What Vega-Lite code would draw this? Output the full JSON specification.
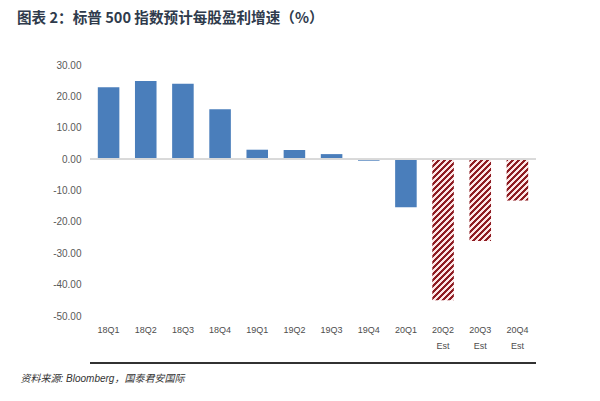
{
  "$schema": "https://vega.github.io/schema/vega-lite/v6.json",
  "autosize": "none",
  "width": 446,
  "height": 251,
  "padding": {"left": 90, "top": 65, "right": 64, "bottom": 85},
  "background": "white",
  "config": {"view": {"stroke": null}},
  "title": {
    "text": "图表 2：标普 500 指数预计每股盈利增速（%）",
    "anchor": "start",
    "frame": "group",
    "dx": -73,
    "offset": 34,
    "font": "Noto Sans CJK SC",
    "fontSize": 14.6,
    "fontWeight": "bold",
    "color": "#2f3b4c"
  },
  "data": {
    "values": [
      {"q": "18Q1", "v": 22.9},
      {"q": "18Q2", "v": 24.9},
      {"q": "18Q3", "v": 24.0},
      {"q": "18Q4", "v": 15.9},
      {"q": "19Q1", "v": 3.0},
      {"q": "19Q2", "v": 2.9},
      {"q": "19Q3", "v": 1.6},
      {"q": "19Q4", "v": -0.5},
      {"q": "20Q1", "v": -15.3},
      {"q": "20Q2 Est", "v": -45.0},
      {"q": "20Q3 Est", "v": -26.1},
      {"q": "20Q4 Est", "v": -13.2}
    ]
  },
  "layer": [
    {
      "mark": {"type": "bar"},
      "encoding": {
        "x": {
          "field": "q",
          "type": "nominal",
          "sort": null,
          "scale": {"paddingInner": 0.42, "paddingOuter": 0.21},
          "axis": {
            "title": "资料来源: Bloomberg，国泰君安国际",
            "titleFont": "Liberation Sans, Noto Sans CJK SC",
            "titleFontStyle": "italic",
            "titleFontWeight": "normal",
            "titleFontSize": 10,
            "titleColor": "#333333",
            "titleX": -70,
            "titleY": 62,
            "titleAlign": "left",
            "titleBaseline": "middle",
            "labelExpr": "split(datum.label, ' ')",
            "labelAngle": 0,
            "labelFont": "Liberation Sans",
            "labelFontSize": 9,
            "labelColor": "#4d4d4d",
            "labelPadding": 9,
            "labelLineHeight": 16,
            "domain": false,
            "ticks": false,
            "grid": false
          }
        },
        "y": {
          "field": "v",
          "type": "quantitative",
          "scale": {"domain": [-50, 30], "nice": false},
          "axis": {
            "title": null,
            "values": [-50, -40, -30, -20, -10, 0, 10, 20, 30],
            "tickCount": 20,
            "labelExpr": "replace(format(datum.value, '.2f'), '\u2212', '-')",
            "labelOverlap": false,
            "labelFont": "Liberation Sans",
            "labelFontSize": 10,
            "labelColor": "#595959",
            "labelPadding": 9,
            "domain": false,
            "ticks": false,
            "grid": false
          }
        },
        "fill": {
          "condition": [
            {
              "test": "datum.q === '20Q2 Est'",
              "value": {
                "gradient": "linear", "x1": 0, "y1": 0, "x2": 0.1724, "y2": 1.1267,
                "stops": [
                  {"offset": 0, "color": "#8e1c22"},
                  {"offset": 0.0184, "color": "#8e1c22"}, {"offset": 0.0184, "color": "#fce6e6"},
                  {"offset": 0.0369, "color": "#fce6e6"}, {"offset": 0.0369, "color": "#8e1c22"},
                  {"offset": 0.0553, "color": "#8e1c22"}, {"offset": 0.0553, "color": "#fce6e6"},
                  {"offset": 0.0737, "color": "#fce6e6"}, {"offset": 0.0737, "color": "#8e1c22"},
                  {"offset": 0.0921, "color": "#8e1c22"}, {"offset": 0.0921, "color": "#fce6e6"},
                  {"offset": 0.1106, "color": "#fce6e6"}, {"offset": 0.1106, "color": "#8e1c22"},
                  {"offset": 0.1290, "color": "#8e1c22"}, {"offset": 0.1290, "color": "#fce6e6"},
                  {"offset": 0.1474, "color": "#fce6e6"}, {"offset": 0.1474, "color": "#8e1c22"},
                  {"offset": 0.1658, "color": "#8e1c22"}, {"offset": 0.1658, "color": "#fce6e6"},
                  {"offset": 0.1843, "color": "#fce6e6"}, {"offset": 0.1843, "color": "#8e1c22"},
                  {"offset": 0.2027, "color": "#8e1c22"}, {"offset": 0.2027, "color": "#fce6e6"},
                  {"offset": 0.2211, "color": "#fce6e6"}, {"offset": 0.2211, "color": "#8e1c22"},
                  {"offset": 0.2396, "color": "#8e1c22"}, {"offset": 0.2396, "color": "#fce6e6"},
                  {"offset": 0.2580, "color": "#fce6e6"}, {"offset": 0.2580, "color": "#8e1c22"},
                  {"offset": 0.2764, "color": "#8e1c22"}, {"offset": 0.2764, "color": "#fce6e6"},
                  {"offset": 0.2948, "color": "#fce6e6"}, {"offset": 0.2948, "color": "#8e1c22"},
                  {"offset": 0.3133, "color": "#8e1c22"}, {"offset": 0.3133, "color": "#fce6e6"},
                  {"offset": 0.3317, "color": "#fce6e6"}, {"offset": 0.3317, "color": "#8e1c22"},
                  {"offset": 0.3501, "color": "#8e1c22"}, {"offset": 0.3501, "color": "#fce6e6"},
                  {"offset": 0.3686, "color": "#fce6e6"}, {"offset": 0.3686, "color": "#8e1c22"},
                  {"offset": 0.3870, "color": "#8e1c22"}, {"offset": 0.3870, "color": "#fce6e6"},
                  {"offset": 0.4054, "color": "#fce6e6"}, {"offset": 0.4054, "color": "#8e1c22"},
                  {"offset": 0.4238, "color": "#8e1c22"}, {"offset": 0.4238, "color": "#fce6e6"},
                  {"offset": 0.4423, "color": "#fce6e6"}, {"offset": 0.4423, "color": "#8e1c22"},
                  {"offset": 0.4607, "color": "#8e1c22"}, {"offset": 0.4607, "color": "#fce6e6"},
                  {"offset": 0.4791, "color": "#fce6e6"}, {"offset": 0.4791, "color": "#8e1c22"},
                  {"offset": 0.4975, "color": "#8e1c22"}, {"offset": 0.4975, "color": "#fce6e6"},
                  {"offset": 0.5160, "color": "#fce6e6"}, {"offset": 0.5160, "color": "#8e1c22"},
                  {"offset": 0.5344, "color": "#8e1c22"}, {"offset": 0.5344, "color": "#fce6e6"},
                  {"offset": 0.5528, "color": "#fce6e6"}, {"offset": 0.5528, "color": "#8e1c22"},
                  {"offset": 0.5713, "color": "#8e1c22"}, {"offset": 0.5713, "color": "#fce6e6"},
                  {"offset": 0.5897, "color": "#fce6e6"}, {"offset": 0.5897, "color": "#8e1c22"},
                  {"offset": 0.6081, "color": "#8e1c22"}, {"offset": 0.6081, "color": "#fce6e6"},
                  {"offset": 0.6265, "color": "#fce6e6"}, {"offset": 0.6265, "color": "#8e1c22"},
                  {"offset": 0.6450, "color": "#8e1c22"}, {"offset": 0.6450, "color": "#fce6e6"},
                  {"offset": 0.6634, "color": "#fce6e6"}, {"offset": 0.6634, "color": "#8e1c22"},
                  {"offset": 0.6818, "color": "#8e1c22"}, {"offset": 0.6818, "color": "#fce6e6"},
                  {"offset": 0.7002, "color": "#fce6e6"}, {"offset": 0.7002, "color": "#8e1c22"},
                  {"offset": 0.7187, "color": "#8e1c22"}, {"offset": 0.7187, "color": "#fce6e6"},
                  {"offset": 0.7371, "color": "#fce6e6"}, {"offset": 0.7371, "color": "#8e1c22"},
                  {"offset": 0.7555, "color": "#8e1c22"}, {"offset": 0.7555, "color": "#fce6e6"},
                  {"offset": 0.7740, "color": "#fce6e6"}, {"offset": 0.7740, "color": "#8e1c22"},
                  {"offset": 0.7924, "color": "#8e1c22"}, {"offset": 0.7924, "color": "#fce6e6"},
                  {"offset": 0.8108, "color": "#fce6e6"}, {"offset": 0.8108, "color": "#8e1c22"},
                  {"offset": 0.8292, "color": "#8e1c22"}, {"offset": 0.8292, "color": "#fce6e6"},
                  {"offset": 0.8477, "color": "#fce6e6"}, {"offset": 0.8477, "color": "#8e1c22"},
                  {"offset": 0.8661, "color": "#8e1c22"}, {"offset": 0.8661, "color": "#fce6e6"},
                  {"offset": 0.8845, "color": "#fce6e6"}, {"offset": 0.8845, "color": "#8e1c22"},
                  {"offset": 0.9030, "color": "#8e1c22"}, {"offset": 0.9030, "color": "#fce6e6"},
                  {"offset": 0.9214, "color": "#fce6e6"}, {"offset": 0.9214, "color": "#8e1c22"},
                  {"offset": 0.9398, "color": "#8e1c22"}, {"offset": 0.9398, "color": "#fce6e6"},
                  {"offset": 0.9582, "color": "#fce6e6"}, {"offset": 0.9582, "color": "#8e1c22"},
                  {"offset": 0.9767, "color": "#8e1c22"}, {"offset": 0.9767, "color": "#fce6e6"},
                  {"offset": 0.9951, "color": "#fce6e6"}, {"offset": 0.9951, "color": "#8e1c22"},
                  {"offset": 1, "color": "#8e1c22"}
                ]
              }
            },
            {
              "test": "datum.q === '20Q3 Est'",
              "value": {
                "gradient": "linear", "x1": 0, "y1": 0, "x2": 0.3129, "y2": 1.1819,
                "stops": [
                  {"offset": 0, "color": "#8e1c22"},
                  {"offset": 0.0291, "color": "#8e1c22"}, {"offset": 0.0291, "color": "#fce6e6"},
                  {"offset": 0.0581, "color": "#fce6e6"}, {"offset": 0.0581, "color": "#8e1c22"},
                  {"offset": 0.0872, "color": "#8e1c22"}, {"offset": 0.0872, "color": "#fce6e6"},
                  {"offset": 0.1163, "color": "#fce6e6"}, {"offset": 0.1163, "color": "#8e1c22"},
                  {"offset": 0.1453, "color": "#8e1c22"}, {"offset": 0.1453, "color": "#fce6e6"},
                  {"offset": 0.1744, "color": "#fce6e6"}, {"offset": 0.1744, "color": "#8e1c22"},
                  {"offset": 0.2035, "color": "#8e1c22"}, {"offset": 0.2035, "color": "#fce6e6"},
                  {"offset": 0.2326, "color": "#fce6e6"}, {"offset": 0.2326, "color": "#8e1c22"},
                  {"offset": 0.2616, "color": "#8e1c22"}, {"offset": 0.2616, "color": "#fce6e6"},
                  {"offset": 0.2907, "color": "#fce6e6"}, {"offset": 0.2907, "color": "#8e1c22"},
                  {"offset": 0.3198, "color": "#8e1c22"}, {"offset": 0.3198, "color": "#fce6e6"},
                  {"offset": 0.3488, "color": "#fce6e6"}, {"offset": 0.3488, "color": "#8e1c22"},
                  {"offset": 0.3779, "color": "#8e1c22"}, {"offset": 0.3779, "color": "#fce6e6"},
                  {"offset": 0.4070, "color": "#fce6e6"}, {"offset": 0.4070, "color": "#8e1c22"},
                  {"offset": 0.4360, "color": "#8e1c22"}, {"offset": 0.4360, "color": "#fce6e6"},
                  {"offset": 0.4651, "color": "#fce6e6"}, {"offset": 0.4651, "color": "#8e1c22"},
                  {"offset": 0.4942, "color": "#8e1c22"}, {"offset": 0.4942, "color": "#fce6e6"},
                  {"offset": 0.5233, "color": "#fce6e6"}, {"offset": 0.5233, "color": "#8e1c22"},
                  {"offset": 0.5523, "color": "#8e1c22"}, {"offset": 0.5523, "color": "#fce6e6"},
                  {"offset": 0.5814, "color": "#fce6e6"}, {"offset": 0.5814, "color": "#8e1c22"},
                  {"offset": 0.6105, "color": "#8e1c22"}, {"offset": 0.6105, "color": "#fce6e6"},
                  {"offset": 0.6395, "color": "#fce6e6"}, {"offset": 0.6395, "color": "#8e1c22"},
                  {"offset": 0.6686, "color": "#8e1c22"}, {"offset": 0.6686, "color": "#fce6e6"},
                  {"offset": 0.6977, "color": "#fce6e6"}, {"offset": 0.6977, "color": "#8e1c22"},
                  {"offset": 0.7267, "color": "#8e1c22"}, {"offset": 0.7267, "color": "#fce6e6"},
                  {"offset": 0.7558, "color": "#fce6e6"}, {"offset": 0.7558, "color": "#8e1c22"},
                  {"offset": 0.7849, "color": "#8e1c22"}, {"offset": 0.7849, "color": "#fce6e6"},
                  {"offset": 0.8140, "color": "#fce6e6"}, {"offset": 0.8140, "color": "#8e1c22"},
                  {"offset": 0.8430, "color": "#8e1c22"}, {"offset": 0.8430, "color": "#fce6e6"},
                  {"offset": 0.8721, "color": "#fce6e6"}, {"offset": 0.8721, "color": "#8e1c22"},
                  {"offset": 0.9012, "color": "#8e1c22"}, {"offset": 0.9012, "color": "#fce6e6"},
                  {"offset": 0.9302, "color": "#fce6e6"}, {"offset": 0.9302, "color": "#8e1c22"},
                  {"offset": 0.9593, "color": "#8e1c22"}, {"offset": 0.9593, "color": "#fce6e6"},
                  {"offset": 0.9884, "color": "#fce6e6"}, {"offset": 0.9884, "color": "#8e1c22"},
                  {"offset": 1, "color": "#8e1c22"}
                ]
              }
            },
            {
              "test": "datum.q === '20Q4 Est'",
              "value": {
                "gradient": "linear", "x1": 0, "y1": 0, "x2": 0.6241, "y2": 1.196,
                "stops": [
                  {"offset": 0, "color": "#8e1c22"},
                  {"offset": 0.0476, "color": "#8e1c22"}, {"offset": 0.0476, "color": "#fce6e6"},
                  {"offset": 0.0952, "color": "#fce6e6"}, {"offset": 0.0952, "color": "#8e1c22"},
                  {"offset": 0.1429, "color": "#8e1c22"}, {"offset": 0.1429, "color": "#fce6e6"},
                  {"offset": 0.1905, "color": "#fce6e6"}, {"offset": 0.1905, "color": "#8e1c22"},
                  {"offset": 0.2381, "color": "#8e1c22"}, {"offset": 0.2381, "color": "#fce6e6"},
                  {"offset": 0.2857, "color": "#fce6e6"}, {"offset": 0.2857, "color": "#8e1c22"},
                  {"offset": 0.3333, "color": "#8e1c22"}, {"offset": 0.3333, "color": "#fce6e6"},
                  {"offset": 0.3810, "color": "#fce6e6"}, {"offset": 0.3810, "color": "#8e1c22"},
                  {"offset": 0.4286, "color": "#8e1c22"}, {"offset": 0.4286, "color": "#fce6e6"},
                  {"offset": 0.4762, "color": "#fce6e6"}, {"offset": 0.4762, "color": "#8e1c22"},
                  {"offset": 0.5238, "color": "#8e1c22"}, {"offset": 0.5238, "color": "#fce6e6"},
                  {"offset": 0.5714, "color": "#fce6e6"}, {"offset": 0.5714, "color": "#8e1c22"},
                  {"offset": 0.6190, "color": "#8e1c22"}, {"offset": 0.6190, "color": "#fce6e6"},
                  {"offset": 0.6667, "color": "#fce6e6"}, {"offset": 0.6667, "color": "#8e1c22"},
                  {"offset": 0.7143, "color": "#8e1c22"}, {"offset": 0.7143, "color": "#fce6e6"},
                  {"offset": 0.7619, "color": "#fce6e6"}, {"offset": 0.7619, "color": "#8e1c22"},
                  {"offset": 0.8095, "color": "#8e1c22"}, {"offset": 0.8095, "color": "#fce6e6"},
                  {"offset": 0.8571, "color": "#fce6e6"}, {"offset": 0.8571, "color": "#8e1c22"},
                  {"offset": 0.9048, "color": "#8e1c22"}, {"offset": 0.9048, "color": "#fce6e6"},
                  {"offset": 0.9524, "color": "#fce6e6"}, {"offset": 0.9524, "color": "#8e1c22"},
                  {"offset": 1, "color": "#8e1c22"}
                ]
              }
            }
          ],
          "value": "#4a7ebb"
        }
      }
    },
    {
      "mark": {"type": "rule", "color": "#d9d9d9", "strokeWidth": 1},
      "encoding": {"y": {"datum": 0, "type": "quantitative"}}
    },
    {
      "mark": {"type": "rule", "color": "#333333", "strokeWidth": 1},
      "encoding": {"y": {"datum": -65, "type": "quantitative"}}
    }
  ]
}
